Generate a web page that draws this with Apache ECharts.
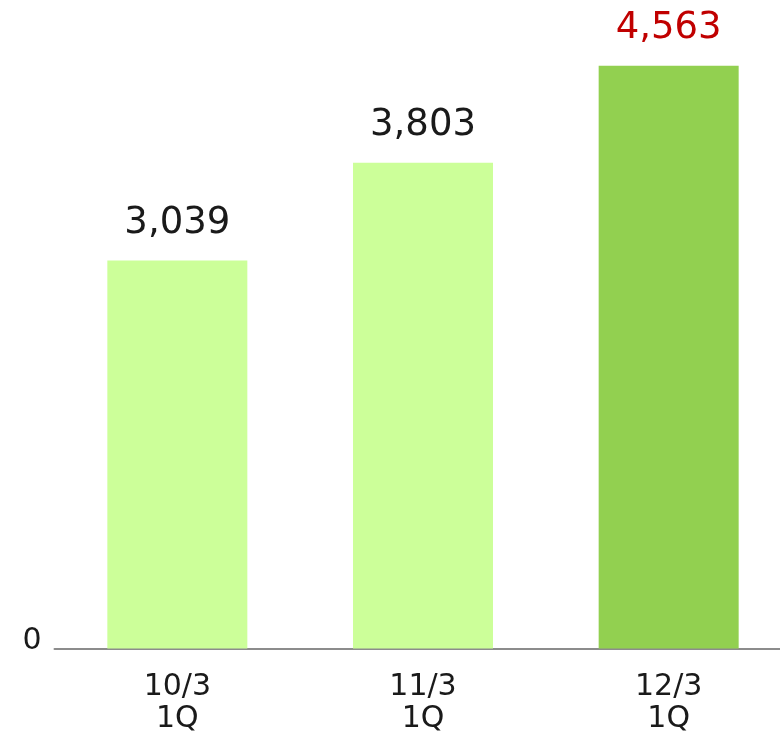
<!DOCTYPE html>
<html>
<head>
<meta charset="utf-8">
<style>
  html, body { margin: 0; padding: 0; background: #ffffff; overflow: hidden; }
  /* the plot runs past the right edge of the window, so the canvas is a bit wider */
  #chart { width: 792px; height: 739px; }
</style>
<script src="https://cdn.jsdelivr.net/npm/echarts@6/dist/echarts.min.js"></script>
</head>
<body>
<div id="chart"></div>
<script>
// Quarterly figures (first quarter of each fiscal year)
const categories = ['10/3\n1Q', '11/3\n1Q', '12/3\n1Q'];
const values = [3039, 3803, 4563];
const barColors = ['#ccff99', '#ccff99', '#92d050'];
const labelColors = ['#1a1a1a', '#1a1a1a', '#c00000'];
const yTicks = [0];

const chart = echarts.init(document.getElementById('chart'), null, { renderer: 'canvas' });
const font = '"DejaVu Sans", Verdana, sans-serif';

chart.setOption({
  animation: false,
  backgroundColor: '#ffffff',
  grid: { left: 54.5, top: 10, width: 737, bottom: 90.5, containLabel: false },
  xAxis: {
    type: 'category',
    data: categories,
    axisLine: { lineStyle: { color: '#8c8c8c', width: 2 } },
    axisTick: { show: false },
    axisLabel: {
      color: '#1a1a1a', fontFamily: font, fontSize: 30, lineHeight: 32, margin: 23
    }
  },
  yAxis: {
    type: 'value',
    min: 0,
    max: 5000,
    interval: 5000,
    axisLine: { show: false },
    axisTick: { show: false },
    splitLine: { show: false },
    axisLabel: {
      color: '#1a1a1a', fontFamily: font, fontSize: 30, margin: 13,
      verticalAlign: 'bottom', lineHeight: 14,
      formatter: v => (yTicks.includes(v) ? String(v) : '')
    }
  },
  series: [{
    type: 'bar',
    barWidth: 140,
    data: values.map((v, i) => ({
      value: v,
      itemStyle: { color: barColors[i] },
      label: { color: labelColors[i] }
    })),
    label: {
      show: true,
      position: 'top',
      distance: 19,
      fontFamily: font,
      fontSize: 37,
      formatter: p => p.value.toLocaleString('en-US')
    }
  }]
});
</script>
</body>
</html>
